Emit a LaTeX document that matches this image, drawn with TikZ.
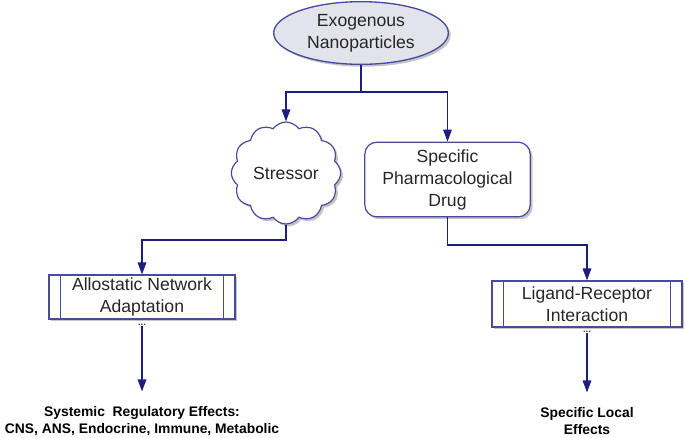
\documentclass[tikz,border=0pt]{standalone}
\usepackage{fontspec}
\setmainfont{Liberation Sans}
\usepackage{tikz}
\usetikzlibrary{shapes,shadows,arrows.meta}
\usepackage{xcolor}
\definecolor{edgeblue}{HTML}{4A4A9C}
\definecolor{arrowblue}{HTML}{1E1E7E}
\definecolor{ovalfill}{HTML}{E3E3EC}

\begin{document}
\begin{tikzpicture}[x=0.75pt,y=-0.75pt,
  >={Triangle[length=9pt,width=6.5pt]},
  conn/.style={draw=arrowblue,line width=0.85pt},
  txt/.style={font=\fontsize{13.2}{16.5}\selectfont,align=center,text=black!85},
  shade/.style={drop shadow={shadow xshift=1.8pt,shadow yshift=-1.8pt,fill=black!45}},
  oval/.style={ellipse,draw=edgeblue,line width=1pt,fill=ovalfill,inner sep=0pt,
    minimum width=131pt,minimum height=47pt,shade,txt},
  puffy/.style={cloud,cloud puffs=12,cloud puff arc=110,draw=edgeblue,line width=0.9pt,
    fill=white,inner sep=0pt,minimum width=82pt,minimum height=58pt,shade,txt},
  roundbox/.style={rectangle,rounded corners=9pt,draw=edgeblue,line width=0.9pt,fill=white,
    minimum width=124pt,minimum height=56pt,inner sep=0pt,shade,txt},
  procbox/.style={rectangle,draw=edgeblue,line width=0.9pt,fill=white,inner sep=0pt,
    minimum height=33pt,shade,txt,
    path picture={
      \draw[edgeblue,line width=0.7pt]
        ([xshift=8.5pt]path picture bounding box.north west) -- ([xshift=8.5pt]path picture bounding box.south west)
        ([xshift=-8.5pt]path picture bounding box.north east) -- ([xshift=-8.5pt]path picture bounding box.south east);}},
  result/.style={font=\fontsize{10.4}{12.8}\selectfont\bfseries,align=center,text=black,inner sep=0pt},
  dots/.style={font=\fontsize{7}{7}\selectfont\bfseries,inner sep=0pt,text=black!75}]

\useasboundingbox (0,0) rectangle (685,437);

\node[oval] (nano) at (361,33) {Exogenous\\Nanoparticles};
\node[puffy] (stress) at (286,173) {Stressor};
\node[roundbox] (drug) at (447.5,179.5) {Specific\\Pharmacological\\Drug};
\node[procbox,minimum width=139.5pt] (allo) at (142,297) {Allostatic Network\\Adaptation};
\node[procbox,minimum width=142.5pt,minimum height=34.5pt] (lig) at (587,304) {Ligand-Receptor\\Interaction};

\node[dots] (allodots) at (142,325) {...};
\node[dots] (ligdots) at (587,332) {...};

\node[result] (sys) at (142,421) {Systemic\ \ Regulatory Effects:\\CNS, ANS, Endocrine, Immune, Metabolic};
\node[result] (loc) at (587,421) {Specific Local\\Effects};

% connectors
\coordinate (split) at (361,92);
\coordinate (lbend) at (142,240);
\coordinate (rbend) at (587,245);

\draw[conn] (nano.south) -- (split);
\draw[conn,->] (split) -| (stress.north);
\draw[conn,->] (split) -| (drug.north);
\draw[conn,->] (stress.south) |- (lbend) -- (allo.north);
\draw[conn,->] (drug.south) |- (rbend) -- (lig.north);
\draw[conn,->] (allodots.south) -- ([yshift=11pt]sys.north);
\draw[conn,->] (ligdots.south) -- ([yshift=11pt]loc.north);
\end{tikzpicture}
\end{document}
